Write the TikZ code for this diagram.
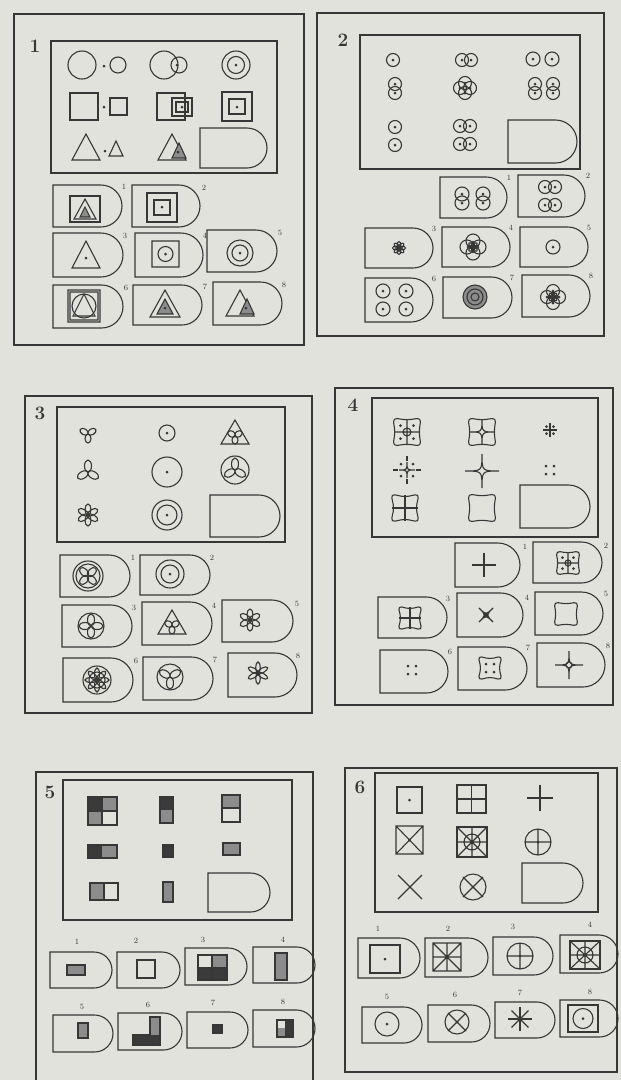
\documentclass[tikz,border=0pt]{standalone}
\usepackage{tikz}
\usetikzlibrary{calc}

\definecolor{paper}{RGB}{226,226,220}
\definecolor{inkc}{RGB}{55,55,55}
\definecolor{dk}{RGB}{58,58,58}
\definecolor{md}{RGB}{140,140,140}

\tikzset{
  ink/.style={draw=inkc, line width=1.1pt},
  frame/.style={draw=inkc, line width=1.5pt},
  num/.style={font=\fontsize{8}{8}\selectfont, text=inkc, inner sep=0pt},
  plabel/.style={font=\fontsize{19}{19}\selectfont\bfseries, text=inkc, inner sep=0pt},
}

% answer card: x, y, width, height
\newcommand{\tabshape}[4]{%
  \draw[ink] (#1,#2) -- ({#1+#3-#4/2},#2) arc[start angle=-90, end angle=90, radius={#4/2}] -- (#1,{#2+#4}) -- cycle;}
% card with its number: x, y, w, h, name, label, label x, label y
\newcommand{\anstab}[8]{\tabshape{#1}{#2}{#3}{#4}\node[num] (#5) at (#7,#8) {#6};}
\newcommand{\pdot}[2]{\fill[inkc] (#1,#2) circle (1.5);}
\newcommand{\ringdot}[3]{\draw[ink] (#1,#2) circle (#3); \pdot{#1}{#2}}
% petals: x, y, angles, half length, half width
\newcommand{\petals}[5]{%
  \foreach \a in {#3} {\draw[ink, rotate around={\a:(#1,#2)}] ({#1+#4},#2) ellipse (#4 and #5);}}
\newcommand{\spokes}[4]{\foreach \a in {#3} {\draw[ink] (#1,#2) -- ++(\a:#4);}}
\newcommand{\astar}[4][]{%
  \draw[ink,#1] ({#2+#4},#3) .. controls (#2,#3) .. (#2,{#3+#4}) .. controls (#2,#3) .. ({#2-#4},#3)
    .. controls (#2,#3) .. (#2,{#3-#4}) .. controls (#2,#3) .. ({#2+#4},#3) -- cycle;}
\newcommand{\cushion}[4]{%
  \draw[ink, rounded corners=4] ({#1-#3},{#2-#3}) -- (#1,{#2-#3+#4}) -- ({#1+#3},{#2-#3}) -- ({#1+#3-#4},#2)
    -- ({#1+#3},{#2+#3}) -- (#1,{#2+#3-#4}) -- ({#1-#3},{#2+#3}) -- ({#1-#3+#4},#2) -- cycle;}
\newcommand{\tri}[4]{\draw[ink] (#1,#2) -- ({#1+#3},{#2+#4}) -- ({#1-#3},{#2+#4}) -- cycle;}
\newcommand{\fourdots}[3]{\pdot{#1-#3}{#2-#3}\pdot{#1+#3}{#2-#3}\pdot{#1-#3}{#2+#3}\pdot{#1+#3}{#2+#3}}

\begin{document}
\begin{tikzpicture}[x=1pt, y=-1pt]
\useasboundingbox (0,0) rectangle (621,1080);
\fill[paper] (0,0) rectangle (621,1080);

% 1
\draw[frame] (14,14) rectangle (304,345);
\node[plabel] (q1) at (35,46) {1};
\draw[frame] (51,41) rectangle (277,173);
\draw[ink] (82,65) circle (14) (118,65) circle (8);
\pdot{104}{66}
\draw[ink] (164,65) circle (14) (179,65) circle (8);
\pdot{177}{65}
\draw[ink] (236,65) circle (14) (236,65) circle (8.5);
\pdot{236}{65}
\draw[ink] (70,93) rectangle (98,120) (110,98) rectangle (127,115);
\pdot{104}{107}
\draw[ink] (157,93) rectangle (185,120) (172,98) rectangle (192,116) (176,102) rectangle (188,112);
\pdot{182}{107}
\draw[ink] (222,92) rectangle (252,121) (229,99) rectangle (245,114);
\pdot{237}{107}
\tri{86}{134}{14}{26}
\pdot{105}{151}
\tri{116}{141}{7}{15}
\tri{172}{134}{14}{26}
\filldraw[ink, fill=md] (179,143) -- (186,158) -- (172,158) -- cycle;
\pdot{178}{152}
\tabshape{200}{128}{67}{40}
\anstab{53}{185}{69}{42}{q1a}{1}{124}{187}
\draw[ink] (70,196) rectangle (100,222);
\tri{85}{199}{11}{20}
\filldraw[ink, fill=md] (85,207) -- (90,217) -- (80,217) -- cycle;
\anstab{132}{185}{68}{42}{q1b}{2}{204}{188}
\draw[ink] (147,193) rectangle (177,222) (154,200) rectangle (170,215);
\pdot{162}{207}
\anstab{53}{233}{70}{44}{q1c}{3}{125}{236}
\tri{86}{241}{14}{27}
\pdot{86}{258}
\anstab{135}{233}{68}{44}{q1d}{4}{205}{236}
\draw[ink] (152,241) rectangle (179,267) (165.5,254) circle (7.5);
\pdot{165.5}{254}
\anstab{207}{230}{70}{42}{q1e}{5}{280}{233}
\draw[ink] (240,253) circle (13) (240,253) circle (8);
\pdot{240}{253}
\anstab{53}{285}{70}{43}{q1f}{6}{126}{288}
\draw[ink] (68,290) rectangle (100,322) (70,292) rectangle (98,320) (84,306) circle (12);
\tri{84}{294}{11}{22}
\anstab{133}{285}{69}{40}{q1g}{7}{205}{287}
\tri{165}{290}{15}{27}
\filldraw[ink, fill=md] (165,299) -- (173,314) -- (157,314) -- cycle;
\pdot{165}{308}
\anstab{213}{282}{69}{43}{q1h}{8}{284}{285}
\tri{240}{290}{14}{26}
\filldraw[ink, fill=md] (247,299) -- (254,314) -- (240,314) -- cycle;
\pdot{246}{308}

% 2
\draw[frame] (317,13) rectangle (604,336);
\node[plabel] (q2) at (343,40) {2};
\draw[frame] (360,35) rectangle (580,169);
\ringdot{393}{60}{6.5}
\ringdot{462}{60}{6.5}\ringdot{471}{60}{6.5}
\ringdot{533}{59}{7}\ringdot{552}{59}{7}
\ringdot{395}{84}{6.5}\ringdot{395}{93}{6.5}
\ringdot{460}{88}{6.5}\ringdot{470}{88}{6.5}\ringdot{465}{83}{6.5}\ringdot{465}{93}{6.5}
\ringdot{535}{84}{6.5}\ringdot{535}{93}{6.5}\ringdot{553}{84}{6.5}\ringdot{553}{93}{6.5}
\ringdot{395}{127}{6.5}\ringdot{395}{145}{6.5}
\ringdot{460}{126}{6.5}\ringdot{470}{126}{6.5}\ringdot{460}{144}{6.5}\ringdot{470}{144}{6.5}
\tabshape{508}{120}{69}{43}
\anstab{440}{177}{67}{41}{q2a}{1}{509}{178}
\ringdot{462}{194}{7}\ringdot{462}{203}{7}\ringdot{483}{194}{7}\ringdot{483}{203}{7}
\anstab{518}{175}{67}{42}{q2b}{2}{588}{176}
\ringdot{545}{187}{6.5}\ringdot{555}{187}{6.5}\ringdot{545}{205}{6.5}\ringdot{555}{205}{6.5}
\anstab{365}{228}{68}{40}{q2c}{3}{434}{229}
\petals{399}{248}{0,45,...,315}{3.2}{1.8}
\pdot{399}{248}
\anstab{442}{227}{68}{40}{q2d}{4}{511}{228}
\draw[ink] (467,247) circle (7) (479,247) circle (7) (473,241) circle (7) (473,253) circle (7);
\petals{473}{247}{0,45,...,315}{2.8}{1.5}
\anstab{520}{227}{68}{40}{q2e}{5}{589}{228}
\ringdot{553}{247}{7}
\anstab{365}{278}{68}{44}{q2f}{6}{434}{279}
\ringdot{383}{291}{7}\ringdot{406}{291}{7}\ringdot{383}{309}{7}\ringdot{406}{309}{7}
\anstab{443}{277}{69}{41}{q2g}{7}{512}{278}
\filldraw[ink, fill=md] (475,297) circle (12);
\draw[ink] (475,297) circle (8) (475,297) circle (4);
\anstab{522}{275}{68}{42}{q2h}{8}{591}{276}
\ringdot{547}{297}{6.5}\ringdot{559}{297}{6.5}\ringdot{553}{291}{6.5}\ringdot{553}{303}{6.5}
\petals{553}{297}{0,45,...,315}{2.5}{1.3}

% 3
\draw[frame] (25,396) rectangle (312,713);
\node[plabel] (q3) at (40,413) {3};
\draw[frame] (57,407) rectangle (285,542);
\petals{88}{434}{-90,30,150}{4.5}{3}
\ringdot{167}{433}{8}
\tri{235}{420}{14}{24}
\petals{235}{436}{-90,30,150}{4}{3}
\pdot{235}{436}
\petals{88}{472}{90,210,330}{6}{3.5}
\pdot{88}{472}
\ringdot{167}{472}{15}
\draw[ink] (235,470) circle (14);
\petals{235}{470}{90,210,330}{6}{3.5}
\petals{88}{515}{30,90,...,330}{5.5}{3}
\draw[ink] (167,515) circle (15) (167,515) circle (10);
\pdot{167}{515}
\tabshape{210}{495}{70}{42}
\anstab{60}{555}{70}{42}{q3a}{1}{133}{558}
\draw[ink] (88,576) circle (15) (88,576) circle (12);
\petals{88}{576}{45,135,225,315}{5.5}{3.5}
\anstab{140}{555}{70}{40}{q3b}{2}{212}{558}
\draw[ink] (170,574) circle (14) (170,574) circle (9);
\pdot{170}{574}
\anstab{62}{605}{70}{42}{q3c}{3}{134}{608}
\draw[ink] (91,626) circle (13);
\petals{91}{626}{0,90,180,270}{6}{3.5}
\anstab{142}{602}{70}{43}{q3d}{4}{214}{606}
\tri{172}{610}{14}{24}
\petals{172}{626}{-90,30,150}{4}{3}
\pdot{172}{626}
\anstab{222}{600}{71}{42}{q3e}{5}{297}{604}
\petals{250}{620}{30,90,...,330}{5.5}{3}
\anstab{63}{658}{70}{44}{q3f}{6}{136}{661}
\draw[ink] (97,680) circle (14) (97,680) circle (8);
\petals{97}{680}{0,45,...,315}{6}{2.5}
\anstab{143}{657}{70}{43}{q3g}{7}{215}{660}
\draw[ink] (170,677) circle (13);
\petals{170}{677}{-90,30,150}{6}{3.5}
\anstab{228}{653}{69}{44}{q3h}{8}{298}{656}
\petals{258}{673}{30,90,...,330}{5.5}{2.3}
\pdot{258}{673}

% 4
\draw[frame] (335,388) rectangle (613,705);
\node[plabel] (q4) at (353,405) {4};
\draw[frame] (372,398) rectangle (598,537);
\cushion{407}{432}{14}{2}
\draw[ink] (407,419) -- (407,445) (394,432) -- (420,432) (407,432) circle (4);
\fourdots{407}{432}{6.5}
\cushion{482}{432}{14}{2}
\astar{482}{432}{13}
\draw[ink] (550,423) -- (550,437) (543,430) -- (557,430);
\fourdots{550}{430}{3.5}
\astar{407}{470}{8}
\draw[ink] (407,456) -- (407,461) (407,479) -- (407,484) (393,470) -- (398,470) (416,470) -- (421,470);
\fourdots{407}{470}{6}
\astar{482}{471}{17}
\fourdots{550}{470}{4}
\cushion{405}{508}{14}{3}
\draw[ink] (405,495) -- (405,521) (392,508) -- (418,508);
\cushion{482}{508}{14}{2}
\tabshape{520}{485}{70}{43}
\anstab{455}{543}{65}{44}{q4a}{1}{525}{547}
\draw[ink] (484,553) -- (484,577) (472,565) -- (496,565);
\anstab{533}{542}{69}{41}{q4b}{2}{606}{546}
\cushion{568}{563}{12}{2}
\draw[ink] (568,552) -- (568,574) (557,563) -- (579,563) (568,563) circle (3);
\fourdots{568}{563}{5.5}
\anstab{378}{597}{69}{41}{q4c}{3}{448}{599}
\cushion{410}{618}{12}{3}
\draw[ink] (410,607) -- (410,629) (399,618) -- (421,618);
\anstab{457}{593}{66}{44}{q4d}{4}{527}{598}
\astar[fill=inkc, rotate around={45:(486,615)}]{486}{615}{10}
\anstab{535}{592}{68}{43}{q4e}{5}{606}{594}
\cushion{566}{614}{12}{2}
\anstab{380}{650}{68}{43}{q4f}{6}{450}{652}
\fourdots{412}{670}{4}
\anstab{458}{647}{69}{43}{q4g}{7}{528}{648}
\cushion{490}{668}{12}{3}
\fourdots{490}{668}{4}
\anstab{537}{643}{68}{44}{q4h}{8}{608}{646}
\astar{569}{665}{14}
\draw[ink] (569,665) circle (3);

% 5
\draw[frame] (36,1090) -- (36,772) -- (313,772) -- (313,1090);
\node[plabel] (q5) at (50,792) {5};
\draw[frame] (63,780) rectangle (292,920);
\fill[dk] (88,797) rectangle (102,811);
\fill[md] (102,797) rectangle (117,811) (88,811) rectangle (102,825);
\draw[ink] (88,797) rectangle (117,825) (102,797) -- (102,825) (88,811) -- (117,811);
\fill[dk] (160,797) rectangle (173,810);
\fill[md] (160,810) rectangle (173,823);
\draw[ink] (160,797) rectangle (173,823);
\fill[md] (222,795) rectangle (240,808);
\draw[ink] (222,795) rectangle (240,822) (222,808) -- (240,808);
\fill[dk] (88,845) rectangle (102,858);
\fill[md] (102,845) rectangle (117,858);
\draw[ink] (88,845) rectangle (117,858);
\filldraw[ink, fill=dk] (163,845) rectangle (173,857);
\filldraw[ink, fill=md] (223,843) rectangle (240,855);
\fill[md] (90,883) rectangle (104,900);
\draw[ink] (90,883) rectangle (118,900) (104,883) -- (104,900);
\filldraw[ink, fill=md] (163,882) rectangle (173,902);
\tabshape{208}{873}{62}{39}
\anstab{50}{952}{62}{36}{q5a}{1}{77}{942}
\filldraw[ink, fill=md] (67,965) rectangle (85,975);
\anstab{117}{952}{63}{36}{q5b}{2}{136}{941}
\draw[ink] (137,960) rectangle (155,978);
\anstab{185}{948}{62}{37}{q5c}{3}{203}{940}
\fill[md] (212,955) rectangle (227,968);
\fill[dk] (198,968) rectangle (227,980);
\draw[ink] (198,955) rectangle (227,980) (212,955) -- (212,980) (198,968) -- (227,968);
\anstab{253}{947}{62}{36}{q5d}{4}{283}{940}
\filldraw[ink, fill=md] (275,953) rectangle (287,980);
\anstab{53}{1015}{60}{37}{q5e}{5}{82}{1007}
\filldraw[ink, fill=md] (78,1023) rectangle (88,1038);
\anstab{118}{1013}{64}{37}{q5f}{6}{148}{1005}
\fill[md] (150,1017) rectangle (160,1035);
\fill[dk] (133,1035) rectangle (160,1045);
\draw[ink] (150,1017) -- (160,1017) -- (160,1045) -- (133,1045) -- (133,1035) -- (150,1035) -- cycle;
\anstab{187}{1012}{61}{36}{q5g}{7}{213}{1003}
\filldraw[ink, fill=dk] (213,1025) rectangle (222,1033);
\anstab{253}{1010}{62}{37}{q5h}{8}{283}{1002}
\fill[md] (277,1028) rectangle (285,1037);
\fill[dk] (285,1020) rectangle (293,1037);
\draw[ink] (277,1020) rectangle (293,1037);

% 6
\draw[frame] (345,768) rectangle (617,1072);
\node[plabel] (q6) at (360,787) {6};
\draw[frame] (375,773) rectangle (598,912);
\draw[ink] (397,787) rectangle (422,813);
\pdot{409.5}{800}
\draw[ink] (457,785) rectangle (486,813) (471.5,785) -- (471.5,813) (457,799) -- (486,799);
\pdot{471.5}{799}
\draw[ink] (540,785) -- (540,811) (527,798) -- (553,798);
\draw[ink] (396,826) rectangle (423,854) (396,826) -- (423,854) (423,826) -- (396,854);
\pdot{409.5}{840}
\draw[ink, line width=2pt] (457,827) rectangle (487,857);
\draw[ink] (457,827) -- (487,857) (487,827) -- (457,857) (472,827) -- (472,857) (457,842) -- (487,842) (472,842) circle (8);
\pdot{472}{842}
\draw[ink] (538,842) circle (13) (538,829) -- (538,855) (525,842) -- (551,842);
\pdot{538}{842}
\draw[ink] (398,875) -- (422,899) (422,875) -- (398,899);
\draw[ink] (473,887) circle (13) (463,877) -- (483,897) (483,877) -- (463,897);
\pdot{473}{887}
\tabshape{522}{863}{61}{40}
\anstab{358}{938}{62}{40}{q6a}{1}{378}{929}
\draw[ink] (370,945) rectangle (400,973);
\pdot{385}{959}
\anstab{425}{938}{63}{39}{q6b}{2}{448}{929}
\draw[ink] (433,943) rectangle (461,971) (433,943) -- (461,971) (461,943) -- (433,971) (447,943) -- (447,971) (433,957) -- (461,957);
\pdot{447}{957}
\anstab{493}{937}{60}{38}{q6c}{3}{513}{927}
\draw[ink] (520,956) circle (13) (520,943) -- (520,969) (507,956) -- (533,956);
\pdot{520}{956}
\anstab{560}{935}{58}{38}{q6d}{4}{590}{925}
\draw[ink, line width=2pt] (570,941) rectangle (600,969);
\draw[ink] (570,941) -- (600,969) (600,941) -- (570,969) (585,941) -- (585,969) (570,955) -- (600,955) (585,955) circle (8);
\pdot{585}{955}
\anstab{362}{1007}{60}{36}{q6e}{5}{387}{997}
\draw[ink] (387,1024) circle (12);
\pdot{387}{1024}
\anstab{428}{1005}{62}{37}{q6f}{6}{455}{995}
\draw[ink] (457,1022) circle (12) (448,1013) -- (466,1031) (466,1013) -- (448,1031);
\pdot{457}{1022}
\anstab{495}{1002}{60}{36}{q6g}{7}{520}{993}
\spokes{520}{1019}{0,45,...,315}{12}
\anstab{560}{1000}{58}{37}{q6h}{8}{590}{992}
\draw[ink, line width=2pt] (568,1005) rectangle (598,1032);
\draw[ink] (583,1018.5) circle (10);
\pdot{583}{1018.5}
\end{tikzpicture}
\end{document}
